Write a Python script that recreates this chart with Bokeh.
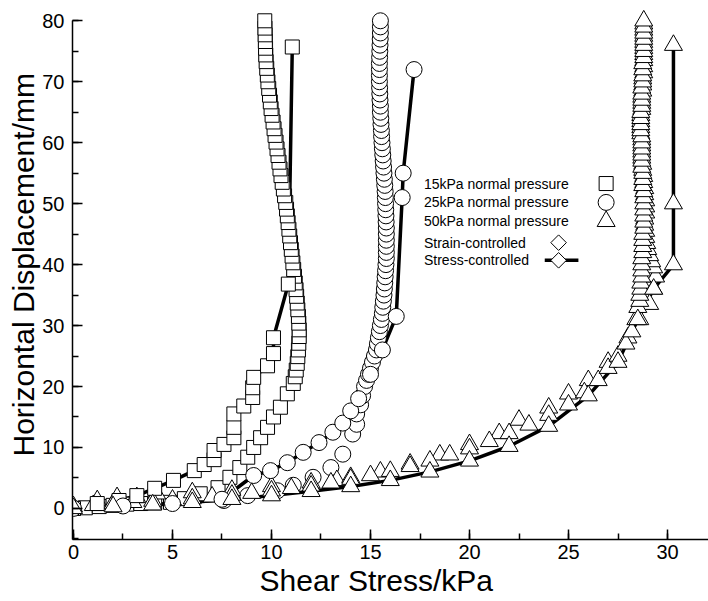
import math
from bokeh.plotting import figure
from bokeh.models import SingleIntervalTicker, Range1d, Title
from bokeh.core.properties import value
from bokeh.embed import file_html
from bokeh.resources import INLINE

# Each series is a list of (shear stress kPa, horizontal displacement mm) points.

# ---- strain-controlled tests ----
sq15_pts = [(0, 0), (0.6, 0.1), (1.3, 0.3), (2.0, 0.5), (2.7, 0.7), (3.4, 0.8), (4.1, 0.9), (4.9, 1.0),
            (5.6, 1.6), (6.4, 2.4), (7.3, 3.4), (7.9, 5.1), (8.4, 6.7), (8.8, 8.4), (9.1, 10.0),
            (9.45, 11.6), (9.8, 13.3), (10.1, 15.0), (10.45, 16.6), (10.8, 18.8), (11.1, 20.5),
            (11.2, 21.6), (11.25, 22.7), (11.3, 23.8), (11.33, 24.9), (11.36, 26.0), (11.38, 27.1),
            (11.4, 28.2), (11.4, 29.3), (11.38, 30.4), (11.36, 31.5), (11.33, 32.6), (11.3, 33.7),
            (11.27, 34.8), (11.24, 35.9), (11.2, 37.0), (11.16, 38.1), (11.12, 39.2), (11.08, 40.3),
            (11.04, 41.4), (11.0, 42.5), (10.96, 43.6), (10.92, 44.7), (10.88, 45.8), (10.84, 46.9),
            (10.8, 48.0), (10.76, 49.1), (10.72, 50.2), (10.66, 51.3), (10.6, 52.4), (10.54, 53.5),
            (10.48, 54.6), (10.43, 55.7), (10.38, 56.8), (10.33, 57.9), (10.28, 59.0), (10.23, 60.1),
            (10.18, 61.2), (10.13, 62.3), (10.08, 63.4), (10.03, 64.5), (9.98, 65.6), (9.94, 66.7),
            (9.9, 67.8), (9.86, 68.9), (9.82, 70.0), (9.79, 71.1), (9.76, 72.2), (9.73, 73.3),
            (9.71, 74.4), (9.7, 75.5), (9.69, 76.6), (9.68, 77.7), (9.67, 78.8), (9.66, 80.0)]

ci25_pts = [(7.6, 1.3), (8.8, 2.1), (10.3, 2.9), (11.1, 3.8), (12.1, 5.1), (13.0, 6.7), (13.6, 8.9),
            (14.1, 12.2), (14.3, 13.8), (14.3, 15.5), (14.5, 17.0), (14.6, 18.5), (14.7, 20), (14.8, 21),
            (14.9, 22), (15.0, 23), (15.1, 24), (15.2, 25), (15.3, 26), (15.35, 27), (15.4, 28),
            (15.45, 29), (15.5, 30), (15.55, 31), (15.6, 32), (15.62, 33), (15.65, 34), (15.68, 35),
            (15.7, 36), (15.72, 37), (15.74, 38), (15.76, 39), (15.78, 40), (15.8, 41), (15.8, 42),
            (15.8, 43), (15.8, 44), (15.8, 45), (15.8, 46), (15.79, 47), (15.78, 48), (15.77, 49),
            (15.76, 50), (15.75, 51), (15.74, 52), (15.72, 53), (15.7, 54), (15.68, 55), (15.66, 56),
            (15.64, 57), (15.62, 58), (15.6, 59), (15.58, 60), (15.56, 61), (15.55, 62), (15.53, 63),
            (15.52, 64), (15.5, 65), (15.5, 66), (15.48, 67), (15.47, 68), (15.46, 69), (15.45, 70),
            (15.45, 71), (15.45, 72), (15.45, 73), (15.46, 74), (15.47, 75), (15.48, 76), (15.49, 77),
            (15.5, 78), (15.5, 79), (15.5, 80)]

tr50_a_pts = [(0, 0.3), (1, 0.5), (2, 0.8), (3, 1.0), (4, 1.2), (5, 1.4), (6, 1.6), (7, 1.9), (8, 2.2),
              (9, 2.5), (10, 2.9), (11, 3.3), (12, 3.7), (13, 4.2), (14, 4.8), (15, 5.4), (16, 6.1),
              (17, 6.9), (18, 7.8), (19, 8.8), (20, 9.8), (21, 11.0), (22, 12.3), (23, 13.7),
              (24, 15.3), (25, 17.0), (25.8, 19), (26.5, 21), (27.0, 23), (27.5, 25), (27.9, 27),
              (28.2, 29), (28.4, 31), (28.5, 33), (28.6, 34), (28.6, 35), (28.65, 36), (28.65, 37),
              (28.7, 38), (28.7, 39), (28.7, 40), (28.7, 41), (28.75, 42), (28.75, 43), (28.75, 44),
              (28.75, 45), (28.8, 46), (28.8, 47), (28.8, 48), (28.8, 49), (28.8, 50), (28.8, 51),
              (28.8, 52), (28.75, 53), (28.75, 54), (28.75, 55), (28.7, 56), (28.7, 57), (28.7, 58),
              (28.7, 59), (28.7, 60), (28.7, 61), (28.65, 62), (28.65, 63), (28.65, 64), (28.65, 65),
              (28.7, 66), (28.7, 67), (28.7, 68), (28.7, 69), (28.75, 70), (28.75, 71), (28.75, 72),
              (28.75, 73), (28.8, 74), (28.8, 75), (28.8, 76), (28.8, 77), (28.8, 78), (28.8, 79),
              (28.8, 80)]
tr50_b_pts = [(1.2, 1.3), (2.2, 1.8), (3.2, 1.8), (4.2, 2.4), (6.0, 2.6), (8.0, 3.0), (10.0, 3.6),
              (12.0, 4.2), (13.3, 4.6), (14.0, 5.1), (15.5, 6.0), (17.0, 7.3), (18.5, 8.8), (20.0, 10.5),
              (21.5, 12.3), (22.5, 14.5), (24.0, 16.5), (25.0, 18.8), (26.0, 21.0), (27.0, 24.0),
              (28.0, 28.0), (28.6, 31.0), (29.1, 33.5), (29.3, 36.0), (29.4, 38.0), (29.3, 39.5),
              (29.2, 40.5), (29.1, 41.5), (29.0, 42.5), (28.95, 43.5), (28.9, 44.5), (28.9, 45.5),
              (28.85, 46.5), (28.85, 47.5), (28.9, 48.5), (28.9, 49.5), (28.9, 50.5), (28.85, 51.5),
              (28.85, 52.5), (28.8, 53.5), (28.8, 54.5), (28.75, 55.5), (28.75, 56.5), (28.7, 57.5),
              (28.7, 58.5), (28.7, 59.5), (28.7, 60.5), (28.65, 61.5), (28.65, 62.5), (28.65, 63.5),
              (28.65, 64.5), (28.7, 65.5), (28.7, 66.5), (28.7, 67.5), (28.75, 68.5), (28.75, 69.5),
              (28.75, 70.5), (28.8, 71.5), (28.8, 72.5), (28.8, 73.5), (28.8, 74.5), (28.8, 75.5),
              (28.8, 76.5), (28.8, 77.5), (28.8, 78.5), (28.8, 79.5)]

# ---- stress-controlled tests ----
st15_pts = [(0, 0), (1.2, 0.8), (2.3, 1.3), (3.2, 2.1), (4.1, 3.3), (5.05, 4.6), (6.1, 6.2), (6.6, 7.2),
            (7.1, 8.0), (7.1, 9.5), (7.6, 10.5), (8.1, 11.6), (8.1, 13.3), (8.1, 15.5), (8.6, 16.8),
            (9.05, 18.2), (9.05, 19.8), (9.1, 21.5), (9.8, 23.4), (10.1, 25.4), (10.1, 28.0),
            (10.85, 36.8), (11.05, 75.7)]
st25_pts = [(0, 0), (2.5, 0.4), (5.0, 0.8), (7.5, 1.5), (9.1, 5.4), (9.95, 6.2), (10.8, 7.5), (11.6, 9.2),
            (12.4, 10.8), (13.1, 12.5), (13.6, 14.0), (14.0, 16.0), (14.4, 18.0), (15.0, 22.0),
            (15.6, 26.0), (16.3, 31.5), (16.6, 51.0), (16.65, 55.0), (17.2, 72.0)]
st50_pts = [(0, 0), (2.0, 0.3), (4.0, 0.6), (6.0, 1.0), (8.0, 1.5), (10.0, 2.1), (12.0, 2.8), (14.0, 3.6),
            (16.0, 4.6), (18.0, 6.0), (20.0, 7.8), (22.0, 10.2), (24.0, 13.5), (26.0, 18.5), (27.5, 24.0),
            (28.5, 31.0), (29.3, 36.0), (30.3, 40.0), (30.3, 50.0), (30.3, 76.0)]

# ---- legend entries ----
legend_labels = ["15kPa normal pressure", "25kPa normal pressure", "50kPa normal pressure",
                 "Strain-controlled", "Stress-controlled"]


def xs(pts):
    return [pt[0] for pt in pts]


def ys(pts):
    return [pt[1] for pt in pts]


FONT = "Liberation Sans"

p = figure(width=708, height=601, output_backend="svg", toolbar_location=None,
           x_range=Range1d(-0.05, 32.07), y_range=Range1d(-5.1, 83.0),
           min_border_left=72, min_border_right=0, min_border_top=2, min_border_bottom=62)
p.outline_line_color = None
p.grid.visible = False
p.background_fill_color = "white"
p.border_fill_color = "white"

for ax in (p.xaxis[0], p.yaxis[0]):
    ax.axis_line_width = 1.5
    ax.axis_line_color = "black"
    ax.major_tick_in = 10
    ax.major_tick_out = 0
    ax.minor_tick_in = 6
    ax.minor_tick_out = 0
    ax.major_tick_line_width = 1.5
    ax.minor_tick_line_width = 1.5
    ax.major_label_text_font = FONT
    ax.major_label_text_font_size = "20px"
    ax.major_label_text_color = "black"

p.xaxis.ticker = SingleIntervalTicker(interval=5, num_minor_ticks=2)
p.yaxis.ticker = SingleIntervalTicker(interval=10, num_minor_ticks=2)
p.yaxis.bounds = (-5.1, 80)
p.xaxis.major_label_standoff = 5
p.yaxis.major_label_standoff = 8

# axis titles
p.add_layout(Title(text="Shear Stress/kPa", align="left", offset=187, standoff=0,
                   text_font=FONT, text_font_size="30px", text_font_style="normal",
                   text_color="black"), "below")
p.add_layout(Title(text="Horizontal Displacement/mm", align="left", offset=83, standoff=0,
                   text_font=FONT, text_font_size="30px", text_font_style="normal",
                   text_color="black"), "left")

mk = dict(fill_color="white", line_color="black", line_width=1)

# stress-controlled lines sit beneath the markers
for pts in (st15_pts, st25_pts, st50_pts):
    p.line(xs(pts), ys(pts), line_color="black", line_width=3.5)

# strain-controlled markers
p.scatter(xs(sq15_pts), ys(sq15_pts), marker="square", size=14, **mk)
p.scatter(xs(ci25_pts), ys(ci25_pts), marker="circle", size=16, **mk)
p.scatter(xs(tr50_b_pts), ys(tr50_b_pts), marker="triangle", size=18, **mk)
p.scatter(xs(tr50_a_pts), ys(tr50_a_pts), marker="triangle", size=18, **mk)

# stress-controlled markers
p.scatter(xs(st15_pts), ys(st15_pts), marker="square", size=14, **mk)
p.scatter(xs(st25_pts), ys(st25_pts), marker="circle", size=16, **mk)
p.scatter(xs(st50_pts), ys(st50_pts), marker="triangle", size=18, **mk)

# legend: text on the left, symbol on the right
leg_y = [53.3, 50.2, 47.1, 43.6, 40.7]
p.text(x=[17.7] * 5, y=leg_y, text=legend_labels, text_font=value(FONT),
       text_font_size="14px", text_baseline="middle", text_align="left", text_color="black")
p.scatter([26.9], [leg_y[0]], marker="square", size=14, **mk)
p.scatter([26.9], [leg_y[1]], marker="circle", size=16, **mk)
p.scatter([26.9], [leg_y[2]], marker="triangle", size=18, **mk)
p.line([23.8, 25.5], [leg_y[4], leg_y[4]], line_color="black", line_width=3.5)
p.scatter([24.5, 24.5], [leg_y[3], leg_y[4]], marker="square", angle=math.pi / 4, size=11, **mk)

open("out.html", "w").write(file_html(p, INLINE))
